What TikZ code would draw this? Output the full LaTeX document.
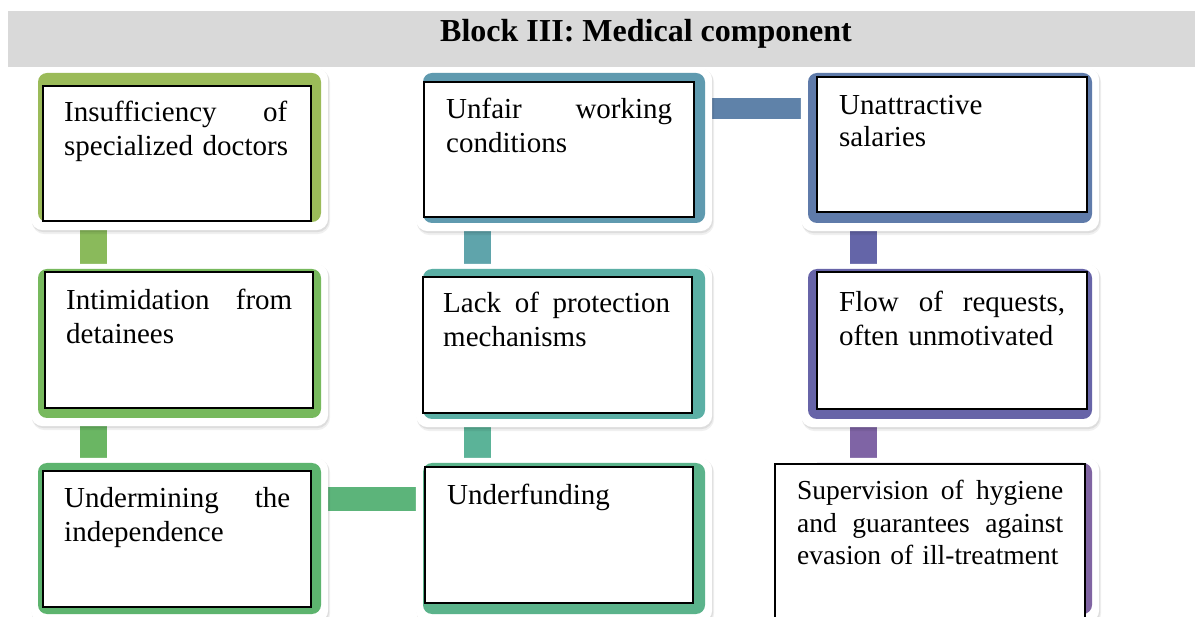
\documentclass[tikz,border=0pt]{standalone}
\usepackage{fontspec}
\setmainfont{Liberation Serif}
\usetikzlibrary{calc}
\pgfdeclarelayer{bg}
\pgfdeclarelayer{frame}
\pgfsetlayers{bg,frame,main}
\definecolor{cA}{HTML}{9BBB59}
\definecolor{cAB}{HTML}{8ABA5B}
\definecolor{cB}{HTML}{77B95D}
\definecolor{cBC}{HTML}{6AB663}
\definecolor{cC}{HTML}{5DB46E}
\definecolor{cCF}{HTML}{5CB47A}
\definecolor{cD}{HTML}{5F9AAF}
\definecolor{cDE}{HTML}{5FA4AB}
\definecolor{cE}{HTML}{5BAFA5}
\definecolor{cEF}{HTML}{5BB398}
\definecolor{cF}{HTML}{5BB38B}
\definecolor{cDG}{HTML}{5F82A9}
\definecolor{cG}{HTML}{5F7BAA}
\definecolor{cGH}{HTML}{6465A8}
\definecolor{cH}{HTML}{6764A8}
\definecolor{cHI}{HTML}{7F64A5}
\definecolor{cI}{HTML}{8064A2}
\definecolor{hdrgray}{HTML}{D9D9D9}
\tikzset{
  colbox/.style={rectangle, draw=none, inner sep=0pt, rounded corners=9pt},
  innerbox/.style={rectangle, draw=black, fill=white, line width=1.8pt, inner sep=0pt},
  txt/.style={anchor=base west, inner sep=0pt, align=left, font=\fontsize{29}{34}\selectfont},
  smalltxt/.style={anchor=base west, inner sep=0pt, align=left, font=\fontsize{27.5}{32.5}\selectfont},
  vconn/.style={line width=27pt},
}
\newcommand\jl[2]{\leavevmode\hbox to #1{#2}}
\newcommand\cardframe[1]{%
  \fill[black, opacity=0.06, rounded corners=13pt] ([shift={(-6,-3)}]#1.north west) rectangle ([shift={(9,12)}]#1.south east);
  \fill[black, opacity=0.08, rounded corners=12pt] ([shift={(-6,-4)}]#1.north west) rectangle ([shift={(8,10)}]#1.south east);
  \fill[white, rounded corners=12pt] ([shift={(-7,-5)}]#1.north west) rectangle ([shift={(7,8)}]#1.south east);}
\begin{document}
\begin{tikzpicture}[x=1pt,y=-1pt]
\useasboundingbox (0,0) rectangle (1195,617);
\clip (0,0) rectangle (1195,617);
% header
\node[rectangle, fill=hdrgray, draw=none, inner sep=0pt, minimum width=1192pt, minimum height=56pt] (hdr) at (604,39) {};
\node[anchor=base west, inner sep=0pt, font=\fontsize{32}{38}\selectfont\bfseries] (title) at (440,42) {Block III: Medical component};
% coloured cards
\node[colbox, fill=cA, minimum width=283pt, minimum height=149pt] (c1) at (179.5,147.5) {};
\node[colbox, fill=cB, minimum width=283pt, minimum height=149pt] (c2) at (179.5,343.5) {};
\node[colbox, fill=cC, minimum width=283pt, minimum height=151pt] (c3) at (179.5,538.5) {};
\node[colbox, fill=cD, minimum width=282pt, minimum height=150pt] (c4) at (564,148) {};
\node[colbox, fill=cE, minimum width=282pt, minimum height=150pt] (c5) at (564,344) {};
\node[colbox, fill=cF, minimum width=282pt, minimum height=151pt] (c6) at (564,538.5) {};
\node[colbox, fill=cG, minimum width=284pt, minimum height=150pt] (c7) at (950,148) {};
\node[colbox, fill=cH, minimum width=284pt, minimum height=150pt] (c8) at (950,344) {};
\node[colbox, fill=cI, minimum width=284pt, minimum height=151pt] (c9) at (950,538.5) {};
% inner white boxes
\node[innerbox, minimum width=268pt, minimum height=135pt] (r1) at (177,153.5) {};
\node[innerbox, minimum width=268pt, minimum height=136pt] (r2) at (179,340) {};
\node[innerbox, minimum width=268pt, minimum height=136pt] (r3) at (177,539) {};
\node[innerbox, minimum width=270pt, minimum height=135pt] (r4) at (559,149.5) {};
\node[innerbox, minimum width=269pt, minimum height=136pt] (r5) at (557.5,345) {};
\node[innerbox, minimum width=268pt, minimum height=136pt] (r6) at (559,535) {};
\node[innerbox, minimum width=270pt, minimum height=135pt] (r7) at (952,144.5) {};
\node[innerbox, minimum width=270pt, minimum height=137pt] (r8) at (952,340.5) {};
\node[innerbox, minimum width=310pt, minimum height=186pt] (r9) at (930,557) {};
% texts
\node[txt, text width=228pt] (t1) at (64,122) {\jl{223pt}{Insufficiency\hfill of}\\specialized doctors};
\node[txt, text width=228pt] (t2) at (66,310) {\jl{226pt}{Intimidation\hfill from}\\detainees};
\node[txt, text width=228pt] (t3) at (64,508) {\jl{226pt}{Undermining\hfill the}\\independence};
\node[txt, text width=228pt] (t4) at (446,119) {\jl{226pt}{Unfair\hfill working}\\conditions};
\node[txt, text width=228pt] (t5) at (443,313) {\jl{227pt}{Lack\hfill of\hfill protection}\\mechanisms};
\node[txt, text width=228pt] (t6) at (447,505) {Underfunding};
\node[txt, text width=228pt, font=\fontsize{29}{32}\selectfont] (t7) at (839,115) {Unattractive\\salaries};
\node[txt, text width=228pt] (t8) at (839,312) {\jl{226pt}{Flow\hfill of\hfill requests,}\\often unmotivated};
\node[smalltxt, text width=268pt] (t9) at (797,500) {\jl{266pt}{Supervision\hfill of\hfill hygiene}\\\jl{266pt}{and\hfill guarantees\hfill against}\\evasion of ill-treatment};
% white frames with shadows
\begin{pgfonlayer}{frame}
\cardframe{c1}\cardframe{c2}\cardframe{c3}
\cardframe{c4}\cardframe{c5}\cardframe{c6}
\cardframe{c7}\cardframe{c8}\cardframe{c9}
\end{pgfonlayer}
% connectors
\begin{pgfonlayer}{bg}
\draw[vconn, cAB] ([xshift=55.5pt]c1.south west) -- ([xshift=55.5pt]c2.north west);
\draw[vconn, cBC] ([xshift=55.5pt]c2.south west) -- ([xshift=55.5pt]c3.north west);
\draw[vconn, cDE] ([xshift=55pt]c4.south west) -- ([xshift=55pt]c5.north west);
\draw[vconn, cEF] ([xshift=55pt]c5.south west) -- ([xshift=55pt]c6.north west);
\draw[vconn, cGH] ([xshift=55.5pt]c7.south west) -- ([xshift=55.5pt]c8.north west);
\draw[vconn, cHI] ([xshift=55.5pt]c8.south west) -- ([xshift=55.5pt]c9.north west);
\draw[line width=24pt, cCF] ([yshift=-36pt]c3.north east) -- ([yshift=-36pt]c6.north west);
\draw[line width=21pt, cDG] ([yshift=-35.5pt]c4.north east) -- ([yshift=-35.5pt]c7.north west);
\end{pgfonlayer}
\end{tikzpicture}
\end{document}
